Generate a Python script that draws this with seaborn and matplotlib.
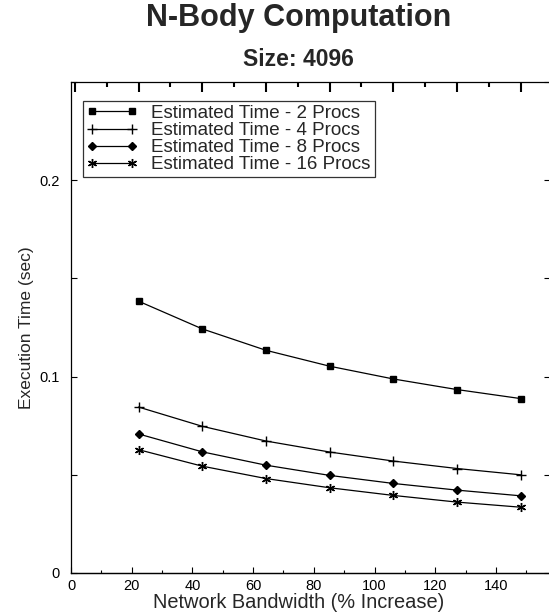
import pandas as pd
import numpy as np
import matplotlib
matplotlib.use('Agg')
import matplotlib.pyplot as plt
import seaborn as sns
from matplotlib.ticker import MultipleLocator, FuncFormatter, NullFormatter

# Values
bandwidth = [20, 40, 60, 80, 100, 120, 140]
procs_2 = [0.1384, 0.1243, 0.1134, 0.1053, 0.0988, 0.0934, 0.0888]
procs_4 = [0.0845, 0.0747, 0.0672, 0.0616, 0.0570, 0.0532, 0.0500]
procs_8 = [0.0708, 0.0617, 0.0549, 0.0497, 0.0456, 0.0422, 0.0393]
procs_16 = [0.0628, 0.0544, 0.0481, 0.0434, 0.0395, 0.0361, 0.0335]
series_names = ['Estimated Time - 2 Procs', 'Estimated Time - 4 Procs',
                'Estimated Time - 8 Procs', 'Estimated Time - 16 Procs']

rows = []
for name, vals in zip(series_names, [procs_2, procs_4, procs_8, procs_16]):
    for b, v in zip(bandwidth, vals):
        rows.append({'Bandwidth': b, 'Time': v, 'Series': name})
data = pd.DataFrame(rows)

sns.set_style("ticks")
plt.rcParams['font.family'] = ['Liberation Sans', 'DejaVu Sans']
plt.rcParams['xtick.direction'] = 'in'
plt.rcParams['ytick.direction'] = 'in'
plt.rcParams['xtick.color'] = 'black'
plt.rcParams['ytick.color'] = 'black'

fig = plt.figure(figsize=(5.49, 6.16), dpi=100)
ax = fig.add_axes([71 / 549, 1 - 573 / 616, 479 / 549, 491 / 616])

markers = {series_names[0]: 's', series_names[1]: '+',
           series_names[2]: 'D', series_names[3]: (6, 2, 0)}
sizes = {series_names[0]: 4.2, series_names[1]: 7, series_names[2]: 4.2, series_names[3]: 6.5}

for name in series_names:
    sub = data[data['Series'] == name]
    sns.lineplot(data=sub, x='Bandwidth', y='Time', ax=ax, color='black',
                 marker=markers[name], markersize=sizes[name], markeredgewidth=1.0,
                 markeredgecolor='black', markerfacecolor='black',
                 linewidth=0.9, label=name)

ax.set_xlim(-1.2, 149.2)
ax.set_ylim(0, 0.25)
ax.set_xlabel('')

# top axis carries the data-scale ticks (as in the original gnuplot figure)
ax.xaxis.set_major_locator(MultipleLocator(20))
ax.xaxis.set_minor_locator(MultipleLocator(10))
ax.xaxis.set_major_formatter(NullFormatter())
ax.xaxis.set_tick_params(which='both', bottom=False, top=True, labelbottom=False,
                         labeltop=False, direction='in')
ax.xaxis.set_tick_params(which='major', length=7, width=1.5, color='black')
ax.xaxis.set_tick_params(which='minor', length=3.5, width=1.5, color='black')

# bottom axis: labelled scale, slightly off from the data scale
def fwd(x):
    return (3.8 + 3.185 * np.asarray(x)) / 3.035

def inv(t):
    return (3.035 * np.asarray(t) - 3.8) / 3.185

sec = ax.secondary_xaxis('bottom', functions=(fwd, inv))
sec.set_xticks(range(0, 141, 20))
sec.xaxis.set_minor_locator(MultipleLocator(10))
sec.tick_params(axis='x', which='both', direction='in', labelsize=10.5, pad=4)
sec.tick_params(axis='x', which='major', length=4, width=0.8)
sec.tick_params(axis='x', which='minor', length=2, width=0.8)
sec.spines['bottom'].set_linewidth(0.9)

ax.yaxis.set_major_locator(MultipleLocator(0.1))
ax.yaxis.set_minor_locator(MultipleLocator(0.05))
ax.yaxis.set_major_formatter(FuncFormatter(lambda v, p: '0' if abs(v) < 1e-9 else f'{v:.1f}'))
ax.tick_params(axis='y', which='both', direction='in', left=True, right=True,
               length=4, width=0.8, labelsize=10.5, pad=8)
ax.set_ylabel('Execution Time (sec)', fontsize=12.5, labelpad=4)

for s in ax.spines.values():
    s.set_linewidth(0.9)
    s.set_color('black')

leg = ax.legend(loc='upper left', bbox_to_anchor=(0.025, 0.961), borderaxespad=0,
                fontsize=13.5, frameon=True, fancybox=False, numpoints=2,
                handlelength=2.7, handletextpad=0.75, labelspacing=0.0,
                borderpad=0.2, edgecolor='black')
leg.get_frame().set_linewidth(0.9)

fig.text(298.5 / 549, 1 - 602 / 616, 'Network Bandwidth (% Increase)', ha='center',
         va='center', fontsize=14.4)
fig.text(298.5 / 549, 1 - 18 / 616, 'N-Body Computation', ha='center', va='center',
         fontsize=22, fontweight='bold')
fig.text(298.5 / 549, 1 - 59 / 616, 'Size: 4096', ha='center', va='center',
         fontsize=16.5, fontweight='bold')

fig.savefig('out.png', dpi=100)
